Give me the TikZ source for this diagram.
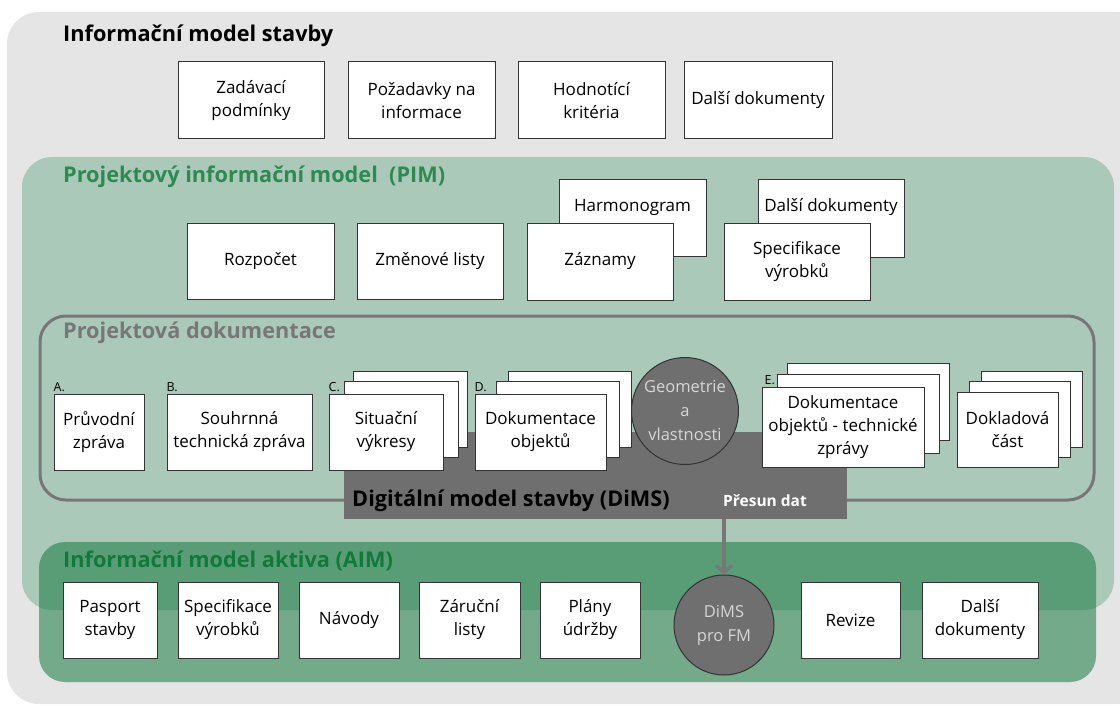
\documentclass[tikz,border=0pt]{standalone}
\usepackage{fontspec}
\setmainfont{Open Sans}
\usetikzlibrary{arrows.meta}

\definecolor{outergray}{HTML}{E5E5E5}
\definecolor{pimgreen}{HTML}{ABC9B9}
\definecolor{pimtitle}{HTML}{2E8B50}
\definecolor{aimfill}{RGB}{22,122,65}
\definecolor{aimtitle}{HTML}{127A38}
\definecolor{dimsgray}{HTML}{6F6F6F}
\definecolor{pdgray}{HTML}{777777}
\definecolor{edgecol}{HTML}{333333}
\definecolor{circtext}{HTML}{D6D6D6}

\begin{document}
\begin{tikzpicture}[x=1pt,y=-1pt,
  box/.style={draw=edgecol, line width=1pt, fill=white, align=center,
    inner sep=0pt, font=\fontsize{17}{23}\selectfont},
  sheet/.style={draw=edgecol, line width=1pt, fill=white, inner sep=0pt},
  txt/.style={align=center, inner sep=0pt, font=\fontsize{17}{23}\selectfont},
  heading/.style={anchor=west, inner sep=0pt, font=\fontsize{21.7}{26}\selectfont\bfseries},
  letter/.style={anchor=south west, inner sep=0pt, yshift=2pt, font=\fontsize{12.5}{14}\selectfont},
  hub/.style={circle, draw=edgecol, line width=1pt, fill=dimsgray, text=circtext,
    align=center, inner sep=0pt, font=\fontsize{16.5}{24}\selectfont},
  flow/.style={draw=pdgray, line width=4pt, -{Straight Barb[length=7pt,width=16pt,line width=3pt]}}
]
\useasboundingbox (0,0) rectangle (1120,706);
\clip (0,0) rectangle (1120,706);

% ---- outer layer: information model of the building
\fill[outergray, rounded corners=32pt] (7,12) rectangle (1150,704);
\node[heading] (ims) at (63,36) {Informační model stavby};
\node[box, minimum width=146pt, minimum height=77pt] (zad) at (251,100.5) {Zadávací\\podmínky};
\node[box, minimum width=147pt, minimum height=77pt] (poz) at (421.5,100.5) {Požadavky na\\informace};
\node[box, minimum width=147pt, minimum height=77pt] (hod) at (591.5,100.5) {Hodnotící\\kritéria};
\node[box, minimum width=148pt, minimum height=77pt] (dal) at (758,100.5) {Další dokumenty};

% ---- project information model
\fill[pimgreen, rounded corners=30pt] (22,157) rectangle (1114,610);
\node[heading, text=pimtitle] (pim) at (63,177) {Projektový informační model\ \ (PIM)};
\node[box, minimum width=147pt, minimum height=76pt] (roz) at (260.5,261) {Rozpočet};
\node[box, minimum width=146pt, minimum height=76pt] (zmen) at (430,261) {Změnové listy};
\node[sheet, minimum width=147pt, minimum height=76pt] (harm) at (632.5,218) {};
\node[txt] (harmt) at (632.5,207) {Harmonogram};
\node[box, minimum width=146pt, minimum height=77pt] (zaz) at (600,261.5) {Záznamy};
\node[sheet, minimum width=146pt, minimum height=77pt] (dal2) at (831,218.5) {};
\node[txt] (dal2t) at (831,207) {Další dokumenty};
\node[box, minimum width=146pt, minimum height=77pt] (spec) at (797,261.5) {Specifikace\\výrobků};

% ---- digital model band (behind the documentation sheets)
\fill[dimsgray] (344,432) rectangle (847,519);

% ---- project documentation frame
\draw[pdgray, line width=3pt, rounded corners=26pt] (40,316) rectangle (1094,500);
\fill[dimsgray] (344,488) rectangle (847,519);
\node[heading, text=pdgray] (pd) at (63,333) {Projektová dokumentace};

\node[box, minimum width=90pt, minimum height=76pt] (pruv) at (99,432) {Průvodní\\zpráva};
\node[letter] (la) at (pruv.north west) {A.};
\node[box, minimum width=145pt, minimum height=76pt] (souhr) at (239.5,432) {Souhrnná\\technická zpráva};
\node[letter] (lb) at (souhr.north west) {B.};

\node[sheet, minimum width=114pt, minimum height=76pt] (sit3) at (410,409) {};
\node[sheet, minimum width=114pt, minimum height=76pt] (sit2) at (401,419.5) {};
\node[box, minimum width=114pt, minimum height=76pt] (sit) at (386,432) {Situační\\výkresy};
\node[letter] (lc) at (sit.north west) {C.};

\node[sheet, minimum width=123pt, minimum height=76pt] (dok3) at (569.5,409) {};
\node[sheet, minimum width=123pt, minimum height=76pt] (dok2) at (557.5,419.5) {};
\node[box, minimum width=131pt, minimum height=76pt] (dok) at (540.5,432) {Dokumentace\\objektů};
\node[letter] (ld) at (dok.north west) {D.};

\node[hub, minimum size=107pt] (geo) at (685,411) {Geometrie\\a\\vlastnosti};

\node[sheet, minimum width=162pt, minimum height=77pt] (tech3) at (868,401.5) {};
\node[sheet, minimum width=162pt, minimum height=79pt] (tech2) at (858,413.5) {};
\node[box, minimum width=162pt, minimum height=80pt] (tech) at (843,427) {Dokumentace\\objektů - technické\\zprávy};
\node[letter] (le) at ([xshift=3pt]tech.north west) {E.};

\node[sheet, minimum width=101pt, minimum height=76pt] (dokl3) at (1031.5,409) {};
\node[sheet, minimum width=101pt, minimum height=76pt] (dokl2) at (1019.5,419) {};
\node[box, minimum width=101pt, minimum height=75pt] (dokl) at (1007.5,429.5) {Dokladová\\část};

\node[inner sep=0pt, font=\fontsize{21.7}{26}\selectfont\bfseries] (dims) at (511,501) {Digitální model stavby (DiMS)};
\node[inner sep=0pt, text=white, font=\fontsize{15.5}{18}\selectfont\bfseries] (presun) at (765,501) {Přesun dat};
\coordinate (dimsout) at (724,519);

% ---- asset information model (translucent band over the lower layers)
\fill[aimfill, fill opacity=0.55, rounded corners=26pt] (39,542) rectangle (1096,682);
\node[heading, text=aimtitle] (aim) at (63,561) {Informační model aktiva (AIM)};
\node[box, minimum width=94pt, minimum height=76pt] (pas) at (110,620) {Pasport\\stavby};
\node[box, minimum width=100pt, minimum height=76pt] (spv) at (228,620) {Specifikace\\výrobků};
\node[box, minimum width=100pt, minimum height=76pt] (nav) at (349,620) {Návody};
\node[box, minimum width=101pt, minimum height=76pt] (zar) at (469.5,620) {Záruční\\listy};
\node[box, minimum width=100pt, minimum height=76pt] (plan) at (590,620) {Plány\\údržby};
\node[hub, minimum size=100pt] (fm) at (724,625) {DiMS\\pro FM};
\node[box, minimum width=99pt, minimum height=76pt] (rev) at (850.5,620) {Revize};
\node[box, minimum width=116pt, minimum height=76pt] (dal3) at (980,620) {Další\\dokumenty};

% ---- data transfer
\draw[flow] (dimsout) -- (fm.north);
\end{tikzpicture}
\end{document}
